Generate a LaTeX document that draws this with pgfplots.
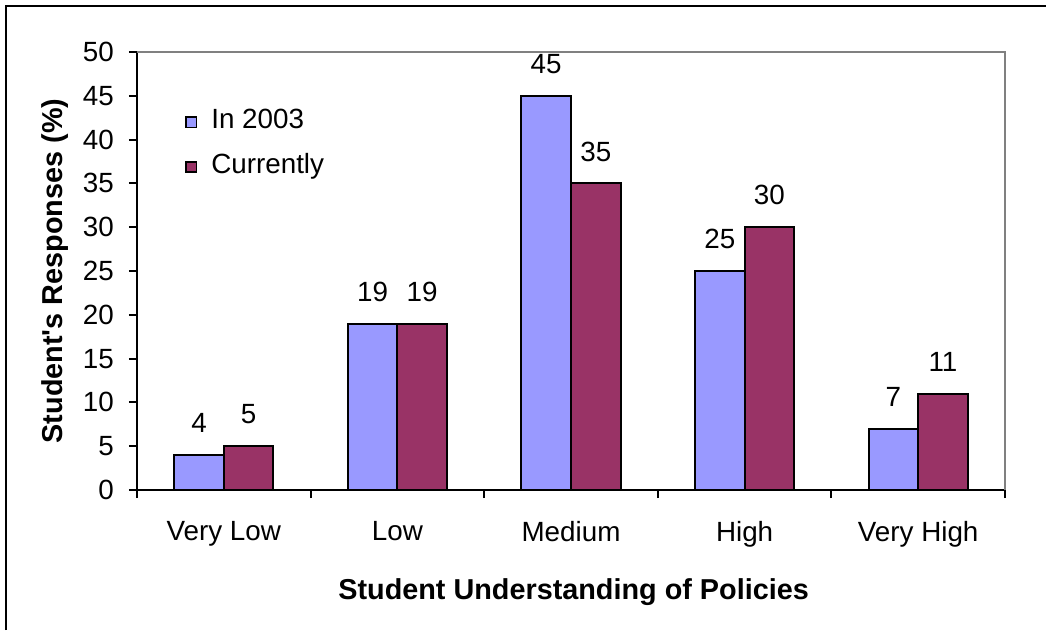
\documentclass[border=0pt]{standalone}
\usepackage{fontspec}
\setmainfont{Liberation Sans}
\usepackage{pgfplots}
\pgfplotsset{compat=1.18}
\definecolor{barA}{HTML}{9999FF}
\definecolor{barB}{HTML}{993366}
\definecolor{frameGray}{HTML}{808080}
\newcommand{\rf}{\fontsize{27.8}{32}\selectfont}
\newcommand{\bfnt}{\fontsize{28.8}{34}\selectfont\bfseries}
\begin{document}
\begin{tikzpicture}
\draw[black, line width=2.5pt] (6pt,0pt) -- (6pt,624pt) -- (1046pt,624pt);
\begin{axis}[
  name=ax,
  at={(137pt,140pt)}, anchor=south west,
  scale only axis, width=868pt, height=438pt,
  xmin=-0.5, xmax=4.5, ymin=0, ymax=50,
  enlargelimits=false, clip=false,
  axis lines*=left,
  axis line style={black, line width=2pt},
  ybar=0pt, bar width=49.6pt,
  xtick={0,1,2,3,4},
  xticklabels={Very Low, Low, Medium, High, Very High},
  minor xtick={-0.5,0.5,1.5,2.5,3.5,4.5},
  ytick={0,5,...,50},
  tick align=outside,
  major tick length=8pt, minor tick length=8pt,
  tick style={black, line width=2pt},
  major x tick style={draw=none},
  /pgf/number format/assume math mode=true,
  tick label style={font=\rf},
  yticklabel style={anchor=east, inner sep=0pt, xshift=-15pt},
  xticklabel style={anchor=north, inner sep=0pt, yshift=-23.5pt},
  xlabel={Student Understanding of Policies},
  xlabel style={at={(axis description cs:0.503,-0.2511)}, anchor=base, font=\bfnt},
  ylabel={Student\textquotesingle s Responses (\%)},
  ylabel style={at={(axis description cs:-0.0853,0.5)}, anchor=base, font=\bfnt},
  nodes near coords,
  nodes near coords style={font=\rf, inner sep=0pt, anchor=south, yshift=21pt, text=black},
  legend style={at={(axis description cs:0.0553,0.870)}, anchor=north west, draw=none, fill=none,
    inner sep=0pt, outer sep=0pt, font=\rf, row sep=23.5pt, column sep=14pt, nodes={inner sep=0pt}},
  legend cell align=left,
  legend image code/.code={\draw[#1, draw=black, line width=1.8pt] (0pt,-8pt) rectangle (10.5pt,2.5pt);},
]
\addplot[fill=barA, draw=black, line width=2pt] coordinates {(0,4) (1,19) (2,45) (3,25) (4,7)};
\addplot[fill=barB, draw=black, line width=2pt] coordinates {(0,5) (1,19) (2,35) (3,30) (4,11)};
\legend{In 2003, Currently}
\end{axis}
\draw[frameGray, line width=2pt] (ax.north west) -- (ax.north east) -- (ax.south east);
\pgfresetboundingbox
\path[use as bounding box] (0pt,0pt) rectangle (1046pt,630pt);
\end{tikzpicture}
\end{document}
